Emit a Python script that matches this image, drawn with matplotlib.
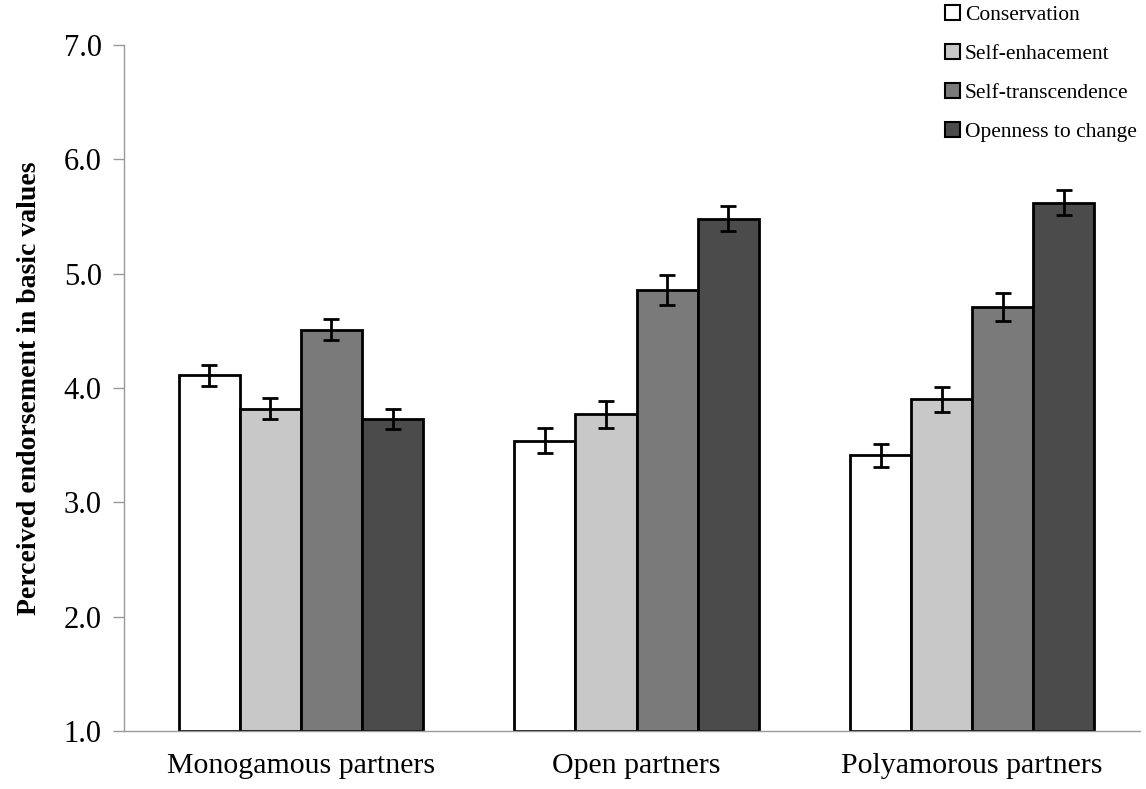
import numpy as np
import matplotlib.pyplot as plt
from matplotlib.patches import Patch

plt.rcParams['font.family'] = ['Liberation Serif', 'DejaVu Serif']

# --- data ---
groups = ['Monogamous partners', 'Open partners', 'Polyamorous partners']
series = ['Conservation', 'Self-enhacement', 'Self-transcendence', 'Openness to change']
means = [
    [4.11, 3.54, 3.41],   # Conservation
    [3.82, 3.77, 3.90],   # Self-enhacement
    [4.51, 4.86, 4.71],   # Self-transcendence
    [3.73, 5.48, 5.62],   # Openness to change
]
errors = [
    [0.09, 0.11, 0.10],
    [0.09, 0.12, 0.11],
    [0.09, 0.13, 0.12],
    [0.09, 0.11, 0.11],
]
colors = ['#ffffff', '#c8c8c8', '#7a7a7a', '#4b4b4b']
yticks = [1.0, 2.0, 3.0, 4.0, 5.0, 6.0, 7.0]

fig = plt.figure(figsize=(11.46, 7.89), dpi=100)
ax = fig.add_axes([0.1082, 0.0735, 0.8866, 0.8695])

x = np.arange(len(groups))
w = 0.182
for i, name in enumerate(series):
    pos = x + (i - 1.5) * w
    heights = np.array(means[i]) - 1.0
    ax.bar(pos, heights, w, bottom=1.0, color=colors[i], edgecolor='black',
           linewidth=2, zorder=2)
    ax.errorbar(pos, means[i], yerr=errors[i], fmt='none', ecolor='black',
                elinewidth=2, capsize=6, capthick=2, zorder=3)

ax.set_ylim(1.0, 7.0)
ax.set_xlim(-0.527, 2.5)
ax.set_yticks(yticks)
ax.set_yticklabels([f'{v:.1f}' for v in yticks], fontsize=22)
ax.set_xticks(x)
ax.set_xticklabels(groups, fontsize=21.5)
ax.tick_params(axis='x', length=0, pad=16)
ax.tick_params(axis='y', length=8, width=1, color='#999999', pad=8)
for s in ['top', 'right']:
    ax.spines[s].set_visible(False)
for s in ['left', 'bottom']:
    ax.spines[s].set_color('#999999')
    ax.spines[s].set_linewidth(1)
ax.set_ylabel('Perceived endorsement in basic values', fontsize=20,
              fontweight='bold', labelpad=16)

handles = [Patch(facecolor=c, edgecolor='black', linewidth=1.5) for c in colors]
fig.legend(handles, series, loc='upper right', bbox_to_anchor=(1.003, 1.01),
           frameon=False, fontsize=15.5, handlelength=0.7, handleheight=0.7,
           handletextpad=0.2, labelspacing=0.88, borderaxespad=0.2)

fig.savefig('out.png', dpi=100)
